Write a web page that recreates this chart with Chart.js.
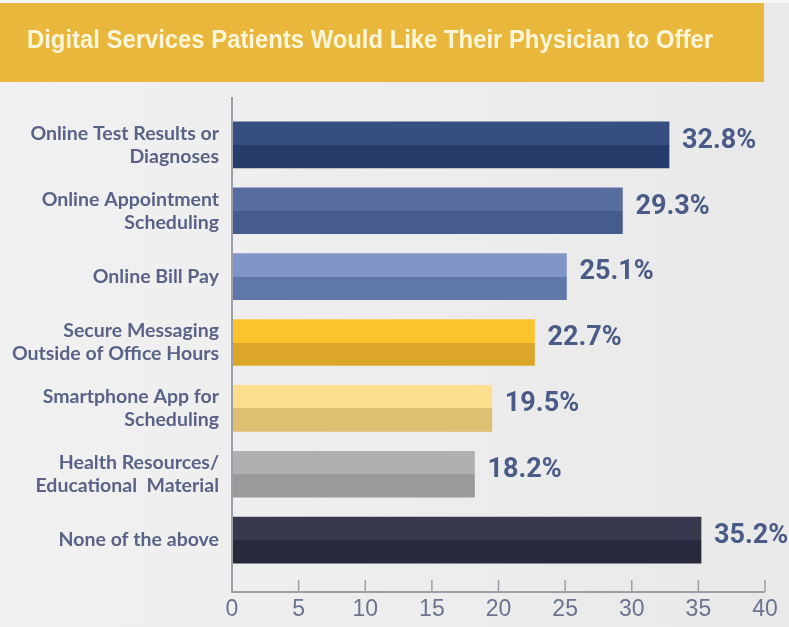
<!DOCTYPE html>
<html lang="en">
<head>
    <meta charset="utf-8" />
    <title>Digital Services Patients Would Like Their Physician to Offer</title>
    <script src="https://cdn.jsdelivr.net/npm/chart.js@4.4.0/dist/chart.umd.min.js"></script>
    <style>
        body { margin: 0; background: #ededed; }
        #wrap { width: 789px; height: 627px; position: relative; }
    </style>
</head>
<body>
    <div id="wrap">
        <canvas id="servicesChart"></canvas>
    </div>

    <script>
        var chartTitle = "Digital Services Patients Would Like Their Physician to Offer";
        var categories = [
            ["Online Test Results or", "Diagnoses"],
            ["Online Appointment", "Scheduling"],
            "Online Bill Pay",
            ["Secure Messaging", "Outside of Office Hours"],
            ["Smartphone App for", "Scheduling"],
            ["Health Resources/", "Educational  Material"],
            "None of the above"
        ];
        var percentages = [32.8, 29.3, 25.1, 22.7, 19.5, 18.2, 35.2];
        var topColors = ["#364f80", "#586d9f", "#8196c6", "#fdc32c", "#fedf8e", "#b0b0b0", "#363a4c"];
        var bottomColors = ["#263c6b", "#465c8e", "#5f78a8", "#dea628", "#dfc073", "#9a9a9a", "#262a3b"];
        var axisTicks = [0, 5, 10, 15, 20, 25, 30, 35, 40];

        // banner + background, title squeezed to the banner text width
        var bannerPlugin = {
            id: 'banner',
            beforeDraw: function (chart) {
                var ctx = chart.ctx;
                ctx.save();
                var bg = ctx.createLinearGradient(0, 0, chart.width, 0);
                bg.addColorStop(0, '#f1f1f1');
                bg.addColorStop(1, '#e9e9e9');
                ctx.fillStyle = bg;
                ctx.fillRect(0, 0, chart.width, chart.height);
                ctx.fillStyle = '#f6f6f6';
                ctx.fillRect(0, 0, chart.width, 3);
                ctx.fillStyle = '#e9b73c';
                ctx.fillRect(0, 3, 764, 79);
                ctx.fillStyle = '#fff6da';
                ctx.font = 'bold 26px "Liberation Sans", Arial, sans-serif';
                ctx.textBaseline = 'middle';
                ctx.textAlign = 'left';
                var w = ctx.measureText(chartTitle).width;
                var sx = Math.min(1, 686 / w);
                ctx.translate(27, 41);
                ctx.scale(sx, 1);
                ctx.fillText(chartTitle, 0, 0);
                ctx.restore();
            }
        };

        // L-shaped axis with inward ticks, extended past the category band
        var axisPlugin = {
            id: 'axisLines',
            afterDatasetsDraw: function (chart) {
                var ctx = chart.ctx;
                var a = chart.chartArea;
                var xs = chart.scales.x;
                var base = a.bottom + 19;
                ctx.save();
                ctx.strokeStyle = '#9d9fa6';
                ctx.lineWidth = 2;
                ctx.beginPath();
                ctx.moveTo(a.left, a.top - 15);
                ctx.lineTo(a.left, base);
                ctx.lineTo(a.right, base);
                ctx.stroke();
                ctx.lineWidth = 1.5;
                axisTicks.forEach(function (t) {
                    if (t === 0) return;
                    var px = xs.getPixelForValue(t);
                    ctx.beginPath();
                    ctx.moveTo(px, base - 12);
                    ctx.lineTo(px, base);
                    ctx.stroke();
                });
                ctx.restore();
            }
        };

        // percentage labels at the end of each bar
        var valueLabels = {
            id: 'valueLabels',
            afterDatasetsDraw: function (chart) {
                var ctx = chart.ctx;
                var meta = chart.getDatasetMeta(0);
                ctx.save();
                ctx.fillStyle = '#4b5b88';
                ctx.font = 'bold 27px Roboto, sans-serif';
                ctx.textBaseline = 'middle';
                ctx.textAlign = 'left';
                meta.data.forEach(function (bar, i) {
                    ctx.fillText(percentages[i].toFixed(1) + '%', bar.x + 13, bar.y - 4);
                });
                ctx.restore();
            }
        };

        function twoTone(context) {
            var chart = context.chart;
            var i = context.dataIndex;
            if (!chart.chartArea) return topColors[i];
            var mid = chart.scales.y.getPixelForValue(i);
            var half = 23;
            var g = chart.ctx.createLinearGradient(0, mid - half, 0, mid + half);
            g.addColorStop(0, topColors[i]);
            g.addColorStop(0.5, topColors[i]);
            g.addColorStop(0.5, bottomColors[i]);
            g.addColorStop(1, bottomColors[i]);
            return g;
        }

        var ctx = document.getElementById('servicesChart').getContext('2d');
        var servicesChart = new Chart(ctx, {
            type: 'bar',
            data: {
                labels: categories,
                datasets: [{
                    label: 'Patients (%)',
                    data: percentages,
                    backgroundColor: twoTone,
                    borderWidth: 0,
                    barThickness: 46
                }]
            },
            options: {
                indexAxis: 'y',
                responsive: true,
                maintainAspectRatio: false,
                animation: false,
                events: [],
                layout: {
                    padding: { top: 112, left: 0, right: 24, bottom: 0 }
                },
                plugins: {
                    legend: { display: false },
                    title: { display: false },
                    tooltip: { enabled: false }
                },
                scales: {
                    x: {
                        min: 0,
                        max: 40,
                        grid: { display: false, drawTicks: false },
                        border: { display: false },
                        ticks: {
                            stepSize: 5,
                            padding: 23,
                            color: '#6b7390',
                            font: { family: '"Liberation Sans", Arial, sans-serif', size: 23 }
                        },
                        afterFit: function (scale) {
                            scale.height = 54;
                            // tick padding should not eat into the right edge
                            scale.paddingLeft = 0;
                            scale.paddingRight = 12;
                        }
                    },
                    y: {
                        grid: { display: false, drawTicks: false },
                        border: { display: false },
                        ticks: {
                            padding: 13,
                            color: '#5a6387',
                            font: { family: 'Lato, sans-serif', size: 19.5, weight: 'bold', lineHeight: 1.18 }
                        },
                        afterFit: function (scale) { scale.width = 232; }
                    }
                }
            },
            plugins: [bannerPlugin, axisPlugin, valueLabels]
        });
    </script>
</body>
</html>
